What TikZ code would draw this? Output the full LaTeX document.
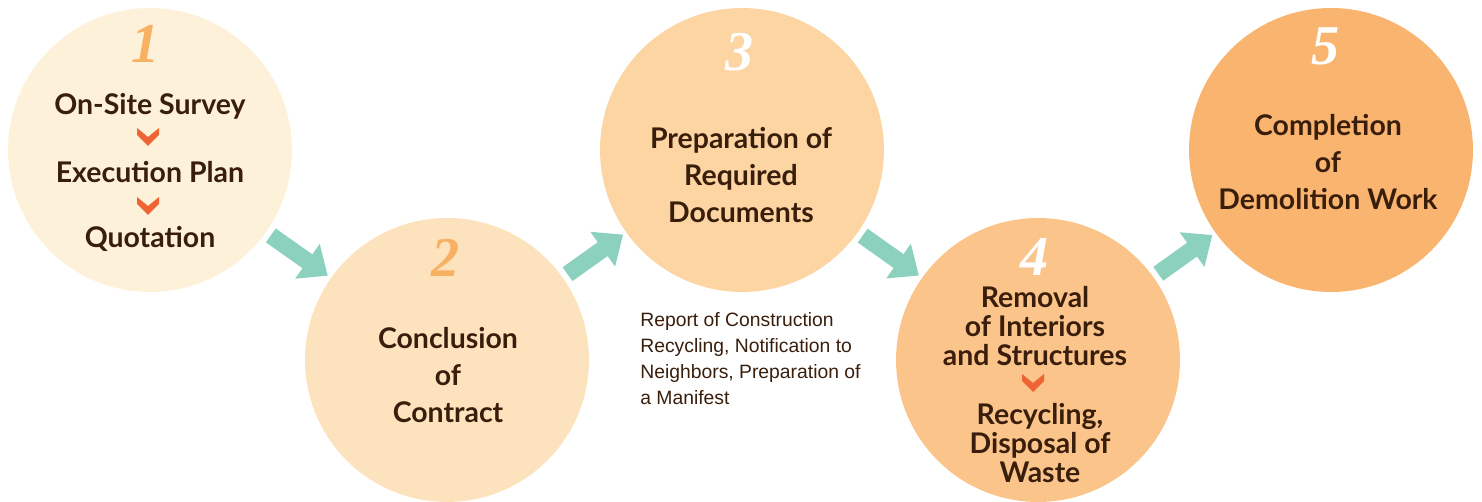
\documentclass[tikz,border=0pt]{standalone}
\usepackage{fontspec}
\usepackage{tikz}
\usetikzlibrary{positioning, arrows.meta}
\newfontfamily\headfont{Lato}
\newfontfamily\notefont{Liberation Sans}
\newfontfamily\numfont{Liberation Serif}
\definecolor{cone}{HTML}{FDF1DA}
\definecolor{ctwo}{HTML}{FDE2BE}
\definecolor{cthree}{HTML}{FCD5A3}
\definecolor{cfour}{HTML}{FBC48A}
\definecolor{cfive}{HTML}{F9B56F}
\definecolor{numorange}{HTML}{F8B062}
\definecolor{txtbrown}{HTML}{3A1E0C}
\definecolor{chevred}{HTML}{EE6434}
\definecolor{flowteal}{HTML}{8BD1BE}
\tikzset{
  stage/.style={circle, fill=#1, minimum size=5.68cm, inner sep=0pt, outer sep=0pt},
  num/.style={font=\numfont\bfseries\itshape\fontsize{32}{32}\selectfont, text=#1},
  label/.style={font=\headfont\bfseries\fontsize{16.2}{21}\selectfont, text=txtbrown, align=center, inner sep=0pt},
  flow/.style={draw=flowteal, line width=0.34cm, -{Triangle[length=0.5cm,width=0.82cm]},
    shorten <=0.12cm, shorten >=0.08cm}
}
\newcommand{\chev}[1]{\fill[chevred, shift={#1}] (-11,-9) -- (0,0) -- (11,-9) -- (11,-2) -- (0,9) -- (-11,-2) -- cycle;}

\begin{document}
\begin{tikzpicture}[x=0.02cm, y=-0.02cm]
\useasboundingbox (0,0) rectangle (1482,502);
% the five stages
\node[stage=cone] (c1) at (150,150) {};
\node[stage=ctwo] (c2) at (447,360) {};
\node[stage=cthree] (c3) at (742,150) {};
\node[stage=cfour] (c4) at (1038,360) {};
\node[stage=cfive] (c5) at (1331,150) {};
% arrows between them
\draw[flow] (c1) -- (c2);
\draw[flow] (c2) -- (c3);
\draw[flow] (c3) -- (c4);
\draw[flow] (c4) -- (c5);
% numbers
\node[num=numorange] (n1) at (146,44) {1};
\node[num=numorange] (n2) at (446,258) {2};
\node[num=white] (n3) at (740,52) {3};
\node[num=white] (n4) at (1035,257) {4};
\node[num=white] (n5) at (1326,46) {5};
% stage 1
\node[label] (s1a) at (150,106) {On-Site Survey};
\chev{(148,137)}
\node[label] (s1b) at (150,172) {Execution Plan};
\chev{(148,206)}
\node[label] (s1c) at (150,239) {Quotation};
% stage 2
\node[label] (s2) at (448,375) {Conclusion\\of\\Contract};
% stage 3
\node[label] (s3) at (741,175) {Preparation of\\Required\\Documents};
\node[font=\notefont\fontsize{11}{14.8}\selectfont, text=txtbrown, align=left, anchor=north west, inner sep=0pt]
  (note) at (640,312) {Report of Construction\\Recycling, Notification to\\Neighbors, Preparation of\\a Manifest};
% stage 4
\node[label, font=\headfont\bfseries\fontsize{16.2}{16.5}\selectfont] (s4a) at (1035,326) {Removal\\of Interiors\\and Structures};
\chev{(1033,383)}
\node[label, font=\headfont\bfseries\fontsize{16.2}{16.5}\selectfont] (s4b) at (1040,443) {Recycling,\\Disposal of\\Waste};
% stage 5
\node[label] (s5) at (1328,162) {Completion\\of\\Demolition Work};
\end{tikzpicture}
\end{document}
